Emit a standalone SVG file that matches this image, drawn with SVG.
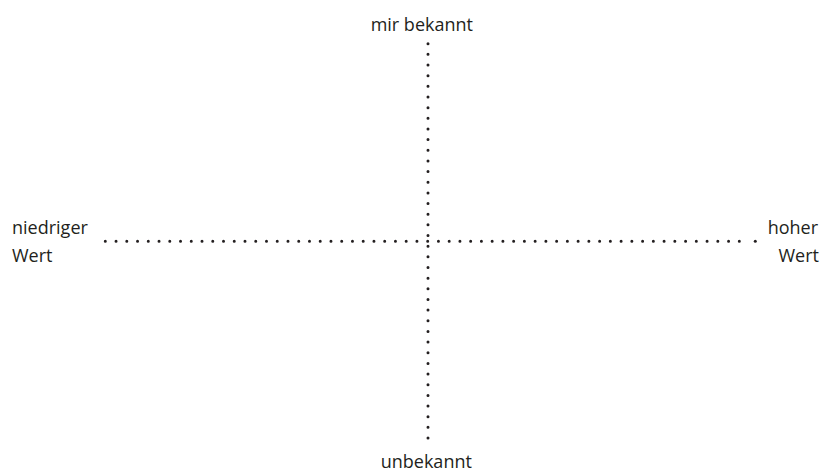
<svg xmlns="http://www.w3.org/2000/svg" width="823" height="472" viewBox="0 0 823 472">
  <style>
    .lbl { font-family: "Open Sans", "Noto Sans", "Liberation Sans", sans-serif; font-size: 18px; fill: #231f20; }
    .dots { stroke: #231f20; stroke-width: 3; stroke-linecap: round; fill: none; }
  </style>
  <rect width="823" height="472" fill="#ffffff"/>
  <g id="axes">
    <!-- horizontal value axis -->
    <line class="dots" x1="105.3" y1="241.3" x2="739.4" y2="241.3" stroke-dasharray="0 10.746"/>
    <circle cx="755.3" cy="241.3" r="1.5" fill="#231f20"/>
    <!-- vertical familiarity axis -->
    <line class="dots" x1="428" y1="43.7" x2="428" y2="438.1" stroke-dasharray="0 10.657"/>
  </g>
  <g id="label-top"><text class="lbl" x="421.8" y="31" text-anchor="middle">mir bekannt</text></g>
  <g id="label-bottom"><text class="lbl" x="426.3" y="468" text-anchor="middle">unbekannt</text></g>
  <g id="label-left">
    <text class="lbl" x="12" y="234">niedriger</text>
    <text class="lbl" x="12" y="261.5">Wert</text>
  </g>
  <g id="label-right">
    <text class="lbl" x="818" y="234" text-anchor="end">hoher</text>
    <text class="lbl" x="819" y="261.5" text-anchor="end">Wert</text>
  </g>
</svg>
